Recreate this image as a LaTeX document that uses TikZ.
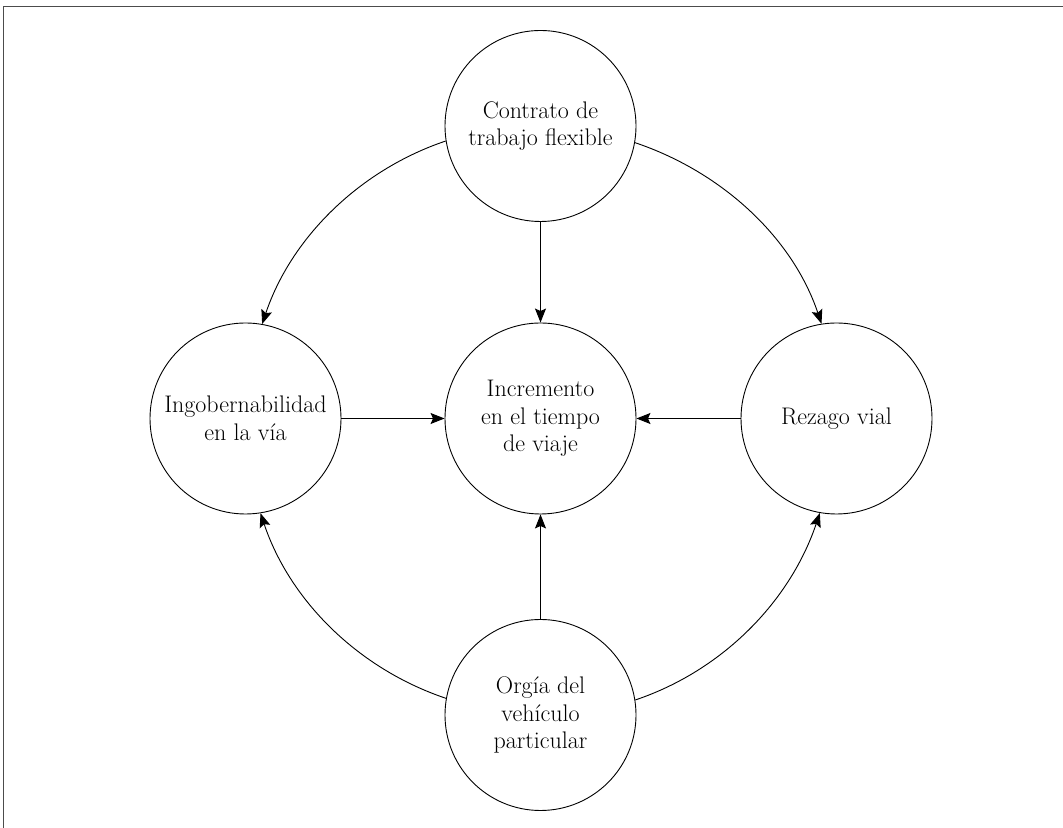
\documentclass[tikz,border=0pt]{standalone}
\usetikzlibrary{arrows.meta}
\begin{document}
\begin{tikzpicture}[x=1bp,y=1bp,
  bubble/.style={circle,draw,line width=0.9bp,minimum size=191bp,inner sep=0pt,align=center,
    font=\fontsize{24bp}{27.5bp}\selectfont},
  arr/.style={line width=0.9bp,-{Stealth[length=14bp,width=11bp,inset=2.5bp]}},
  frame/.style={line width=1.5bp,draw=black!70}]
\useasboundingbox (0,0) rectangle (1063,828);
\draw[frame] (3.5,0) -- (3.5,821.5) -- (1063,821.5);
\node[bubble] (top) at (540.5,702) {Contrato de\\trabajo flexible};
\node[bubble] (mid) at (540.5,409.5) {Incremento\\en el tiempo\\de viaje};
\node[bubble] (left) at (245.5,409.5) {Ingobernabilidad\\en la vía};
\node[bubble] (right) at (836.5,409.5) {Rezago vial};
\node[bubble] (bot) at (540.5,113) {Orgía del\\vehículo\\particular};
\draw[arr] (top) -- (mid);
\draw[arr] (left) -- (mid);
\draw[arr] (right) -- (mid);
\draw[arr] (bot) -- (mid);
\draw[arr] (top.189.3) to[out=198.6,in=71.4,looseness=0.9] (left.80.7);
\draw[arr] (top.350.7) to[out=341.4,in=108.6,looseness=0.9] (right.99.3);
\draw[arr] (bot.170.7) to[out=161.4,in=288.6,looseness=0.9] (left.279.3);
\draw[arr] (bot.9.3) to[out=18.6,in=251.4,looseness=0.9] (right.260.7);
\end{tikzpicture}
\end{document}
